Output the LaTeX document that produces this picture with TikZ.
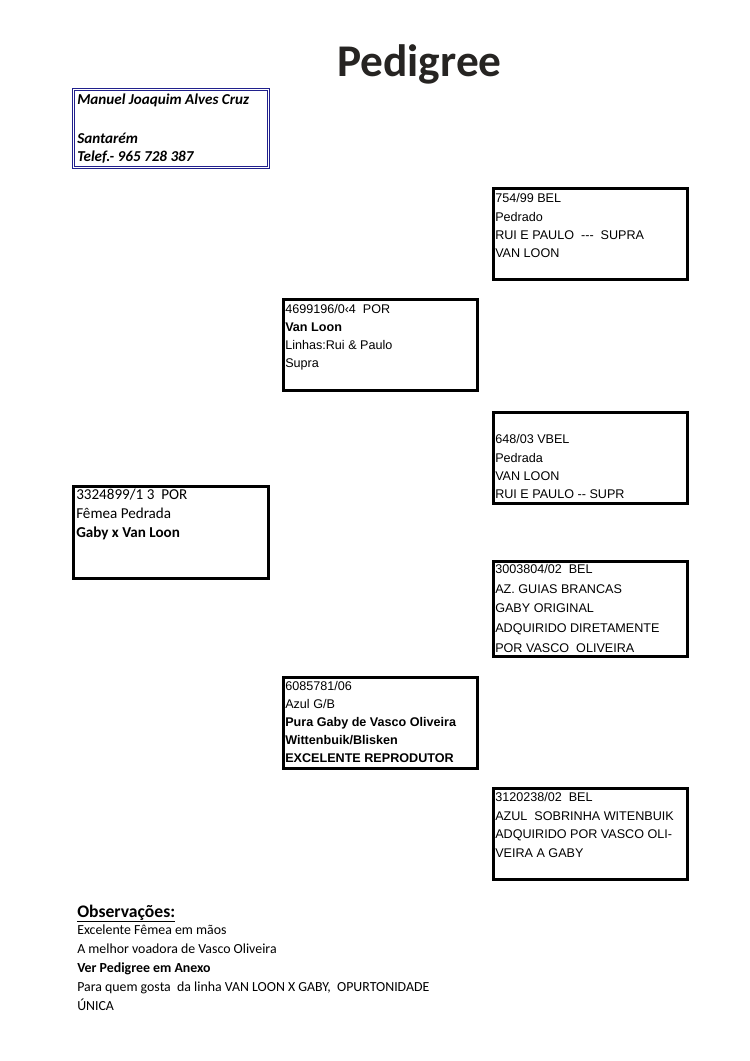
\documentclass[tikz,border=0pt]{standalone}
\usepackage{fontspec}
\setmainfont{Carlito}
\newfontfamily\arialfont{Liberation Sans}
\usepackage{tikz}
\definecolor{ownerblue}{RGB}{32,32,140}
\definecolor{titlegray}{RGB}{38,36,34}

\begin{document}
\begin{tikzpicture}[x=0.7937pt,y=-0.7937pt,
	box/.style={draw, line width=2.3pt, inner sep=0pt, minimum width=154pt, minimum height=72.2pt},
	owner/.style={draw=ownerblue, double, double distance=1pt, line width=0.8pt, inner sep=0pt, minimum width=154.8pt, minimum height=61.9pt},
	linha/.style={anchor=north west, inner sep=0pt, align=left, font=\arialfont\fontsize{10}{14.4}\selectfont},
	calib/.style={anchor=north west, inner sep=0pt, align=left, font=\fontsize{11}{15}\selectfont}]
	
	\useasboundingbox (0,0) rectangle (750,1061);
	
	% titulo e dono
	\node[anchor=base west, inner sep=0pt, font=\bfseries\fontsize{36}{42}\selectfont, text=titlegray] (titulo) at (337,76) {Pedigree};
	\node[owner] (dono) at (171,128.5) {};
	\node[calib, font=\bfseries\itshape\fontsize{12}{14.5}\selectfont] (donotxt) at (77,93.5) {Manuel Joaquim Alves Cruz\\[16.5pt]Santarém\\Telef.- 965 728 387};
	
	% pombo
	\node[box, minimum width=154.8pt, minimum height=73pt] (pombo) at (171,532.5) {};
	\node[calib, font=\fontsize{12}{15}\selectfont] (pombotxt) at (76,488.5) {3324899/1 3\ \ POR\\Fêmea Pedrada\\\textbf{Gaby x Van Loon}};
	
	% pai e avos paternos
	\node[box] (pai) at (380.5,345) {};
	\node[linha] (paitxt) at (285,304) {4699196/0‹4\ \ POR\\\textbf{Van Loon}\\Linhas:Rui \& Paulo\\Supra};
	\node[box] (avoA) at (590.5,234) {};
	\node[linha] (avoAtxt) at (495,193.5) {754/99 BEL\\Pedrado\\RUI E PAULO\ \ ---\ \ SUPRA\\VAN LOON};
	\node[box] (avoB) at (590.5,458) {};
	\node[linha] (avoBtxt) at (495,434.5) {648/03 VBEL\\Pedrada\\VAN LOON\\RUI E PAULO -- SUPR};
	
	% mae e avos maternos
	\node[box] (mae) at (380.5,723) {};
	\node[linha, font=\arialfont\fontsize{10}{14.3}\selectfont] (maetxt) at (285,681.5) {6085781/06\\Azul G/B\\\textbf{Pura Gaby de Vasco Oliveira}\\\textbf{Wittenbuik/Blisken}\\\textbf{EXCELENTE REPRODUTOR}};
	\node[box, minimum height=75.4pt] (avoC) at (590.5,609) {};
	\node[linha, font=\arialfont\fontsize{10}{15.5}\selectfont] (avoCtxt) at (495,564.5) {3003804/02\ \ BEL\\AZ. GUIAS BRANCAS\\GABY ORIGINAL\\ADQUIRIDO DIRETAMENTE\\POR VASCO\ \ OLIVEIRA};
	\node[box] (avoD) at (590.5,834) {};
	\node[linha, font=\arialfont\fontsize{10}{14.7}\selectfont] (avoDtxt) at (495,792.5) {3120238/02\ \ BEL\\AZUL\ \ SOBRINHA WITENBUIK\\ADQUIRIDO POR VASCO OLI-\\VEIRA A GABY};
	
	% observacoes
	\node[anchor=base west, inner sep=0pt, font=\bfseries\fontsize{14}{16}\selectfont] (obs) at (77,917) {\underline{Observações:}};
	\node[calib, font=\fontsize{11}{15}\selectfont] (obstxt) at (77,925) {Excelente Fêmea em mãos\\A melhor voadora de Vasco Oliveira\\\textbf{Ver Pedigree em Anexo}\\Para quem gosta\ \ da linha VAN LOON X GABY,\ \ OPURTONIDADE\\ÚNICA};
	
\end{tikzpicture}
\end{document}
